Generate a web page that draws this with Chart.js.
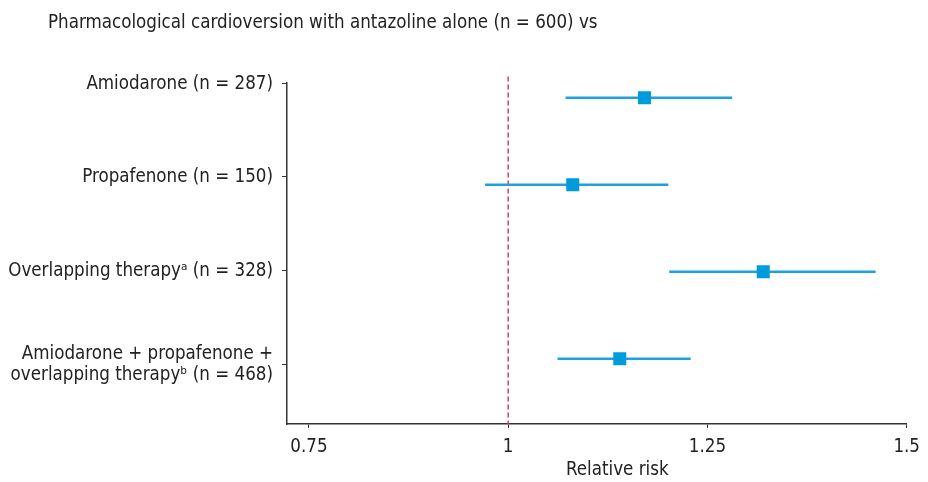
<!DOCTYPE html>
<html>
<head>
<meta charset="utf-8">
<script src="https://cdn.jsdelivr.net/npm/chart.js@4/dist/chart.umd.min.js"></script>
<style>
  html, body { margin: 0; padding: 0; background: #fff; }
  #wrap { position: relative; width: 928px; height: 482px; }
  .txt { position: absolute; font-family: 'DejaVu Sans Condensed', sans-serif; font-size: 18.6px; color: #222; white-space: nowrap; line-height: 1; }
  #title { left: 48px; top: 13px; }
  #xtitle { left: 566px; top: 460px; }
  canvas { position: absolute; left: 0; top: 0; }
</style>
</head>
<body>
<div id="wrap">
  <canvas id="c" width="928" height="482"></canvas>
  <div id="title" class="txt">Pharmacological cardioversion with antazoline alone (n = 600) vs</div>
  <div id="xtitle" class="txt">Relative risk</div>
</div>
<script>
// ---- data ----
const categories = [
  'Amiodarone (n = 287)',
  'Propafenone (n = 150)',
  'Overlapping therapy\u1d43 (n = 328)',
  ['Amiodarone + propafenone +', 'overlapping therapy\u1d47 (n = 468)']
];
const relativeRisk = [1.171, 1.081, 1.320, 1.140];
const ciLower = [1.072, 0.971, 1.202, 1.062];
const ciUpper = [1.281, 1.201, 1.461, 1.229];
const xTickValues = [0.75, 1, 1.25, 1.5];
const referenceValue = 1;

// ---- chart ----
const FONT = "'DejaVu Sans Condensed', sans-serif";
const BLUE = '#009bdc';
const LINE_BLUE = '#1ea2dd';
const AXIS = '#333333';

// y positions of the row tick labels (layout only)
const yLabelPos = [-0.16, 0.91, 1.99, 3.07];

const datasets = [];
datasets.push({
  type: 'scatter',
  data: relativeRisk.map((v, i) => ({ x: v, y: i })),
  pointStyle: 'rect',
  pointRadius: 9.2,
  pointHoverRadius: 9.2,
  backgroundColor: BLUE,
  borderWidth: 0
});
categories.forEach((c, i) => {
  datasets.push({
    type: 'line',
    data: [{ x: ciLower[i], y: i }, { x: ciUpper[i], y: i }],
    borderColor: LINE_BLUE,
    borderWidth: 2.5,
    pointRadius: 0,
    fill: false
  });
});
datasets.push({
  type: 'line',
  data: [{ x: referenceValue, y: -0.245 }, { x: referenceValue, y: 3.75 }],
  borderColor: '#ec3a55',
  borderWidth: 1.5,
  borderDash: [5, 3],
  pointRadius: 0,
  fill: false,
  clip: false
});

new Chart(document.getElementById('c'), {
  data: { datasets },
  options: {
    responsive: false,
    animation: false,
    events: [],
    layout: { padding: { top: 83, right: 19, bottom: 0, left: 0 } },
    plugins: { legend: { display: false }, tooltip: { enabled: false }, title: { display: false } },
    scales: {
      x: {
        type: 'linear',
        min: 0.7225,
        max: 1.5,
        afterBuildTicks: s => { s.ticks = xTickValues.map(v => ({ value: v })); },
        afterFit: s => { s.height = 58; },
        grid: { drawOnChartArea: false, drawTicks: true, tickLength: 4, color: AXIS, lineWidth: 1 },
        border: { display: true, color: AXIS, width: 1.5 },
        ticks: { color: '#222', font: { family: FONT, size: 18.6 }, padding: 8, callback: v => String(v), maxRotation: 0, autoSkip: false },
        title: { display: false }
      },
      y: {
        type: 'linear',
        reverse: true,
        min: -0.17,
        max: 3.75,
        afterBuildTicks: s => { s.ticks = yLabelPos.map(v => ({ value: v })); },
        afterFit: s => { s.width = 287; },
        grid: { drawOnChartArea: false, drawTicks: true, tickLength: 5, color: AXIS, lineWidth: 1 },
        border: { display: true, color: AXIS, width: 1.5 },
        ticks: {
          color: '#222',
          font: { family: FONT, size: 18.6, lineHeight: 1.1 },
          padding: 9,
          autoSkip: false,
          callback: (v) => { const i = yLabelPos.indexOf(v); return i >= 0 ? categories[i] : ''; }
        }
      }
    }
  }
});
</script>
</body>
</html>
